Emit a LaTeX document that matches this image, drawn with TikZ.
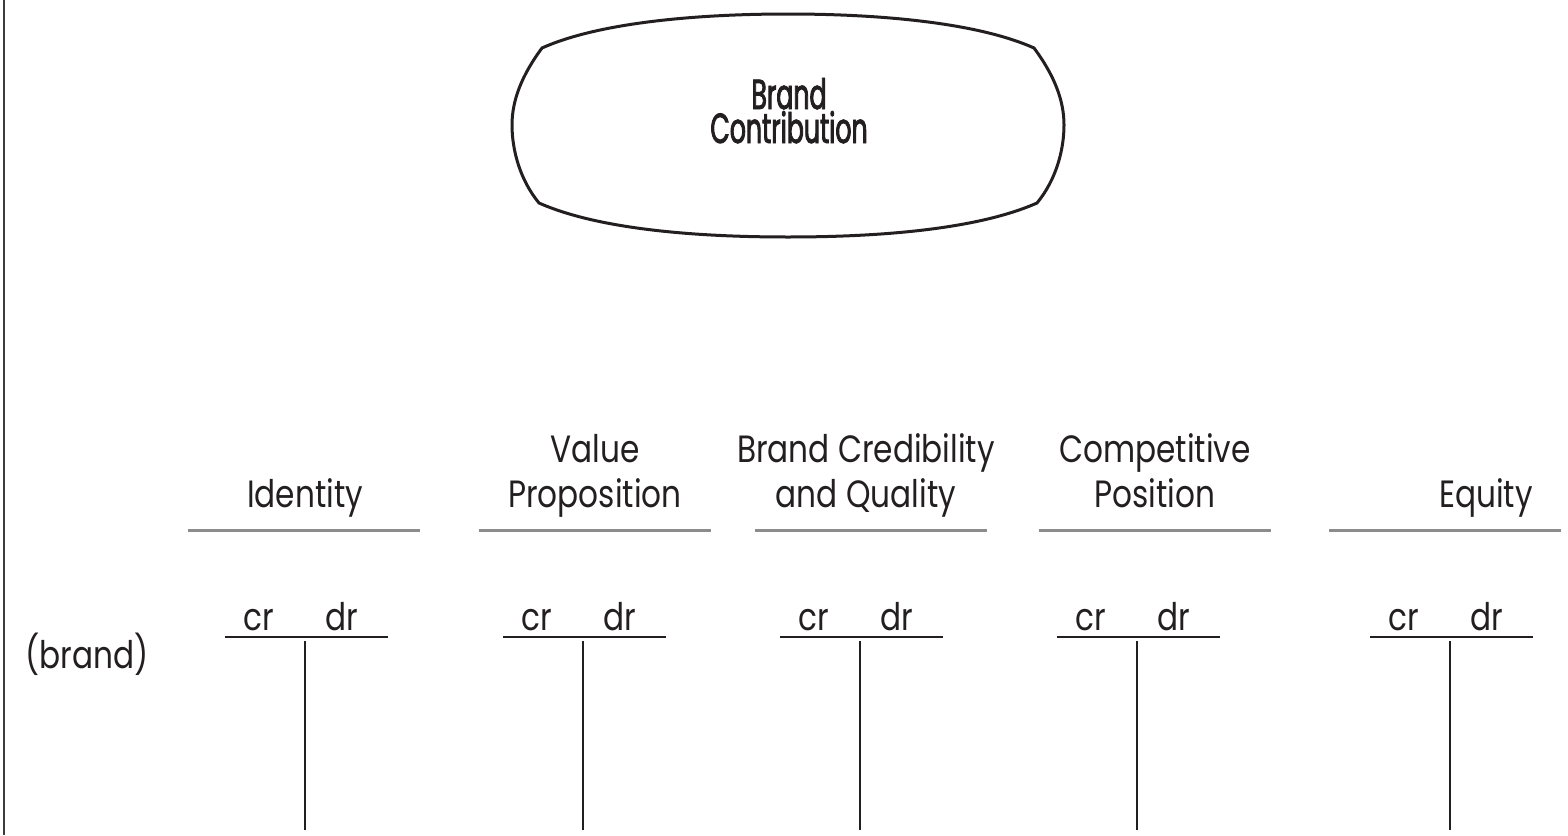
\documentclass[tikz,border=0pt]{standalone}
\usepackage{fontspec}
\setmainfont{Poppins}
\newfontfamily\labelfont[FakeStretch=0.82]{Poppins}
\newfontfamily\condfont[FakeStretch=0.6,FakeBold=2]{Poppins}
\definecolor{ink}{HTML}{231F20}
\definecolor{rulegray}{HTML}{8C8C8C}
\definecolor{framegray}{HTML}{3C3C3C}
\tikzset{
  heading/.style={font=\labelfont\fontsize{19}{22.5}\selectfont, text=ink,
    inner sep=0pt, align=center, anchor=base},
  colhead/.style={font=\labelfont\fontsize{19}{22.5}\selectfont, text=ink,
    inner sep=0pt, anchor=base},
  blob/.style={draw=ink, line width=1.5pt, fill=white},
  blobtext/.style={font=\condfont\fontsize{21}{17}\selectfont, text=ink,
    inner sep=0pt, align=center, anchor=base},
  headrule/.style={draw=rulegray, line width=1.5pt},
  tline/.style={draw=ink, line width=0.8pt},
  frame/.style={draw=framegray, line width=1pt}
}
\begin{document}
\begin{tikzpicture}[x=0.5pt, y=-0.5pt]
\useasboundingbox (0,0) rectangle (1568,835);

% left frame edge
\coordinate (ftop) at (3.5,0);
\coordinate (fbot) at (3.5,835);
\draw[frame] (ftop) -- (fbot);

% rounded barrel shape around the title
\draw[blob] (542,48)
  .. controls (600,22) and (700,14) .. (788,14)
  .. controls (876,14) and (976,22) .. (1034,48)
  .. controls (1054,75) and (1064,100) .. (1064,125)
  .. controls (1064,150) and (1056,180) .. (1037,203)
  .. controls (976,230) and (876,237) .. (788,237)
  .. controls (700,237) and (600,230) .. (539,203)
  .. controls (520,180) and (512,150) .. (512,125)
  .. controls (512,100) and (522,75) .. (542,48) -- cycle;
% the base anchor of a multi-line node sits on its last line
\node[blobtext] (title) at (789,143) {Brand\\Contribution};

% column headings
\node[heading] (identity) at (305,507) {Identity};
\node[heading] (valueprop) at (595,507) {Value\\Proposition};
\node[heading] (credibility) at (866,507) {Brand Credibility\\and Quality};
\node[heading] (competitive) at (1155,507) {Competitive\\Position};
\node[heading] (equity) at (1486,507) {Equity};

% rules under the headings
\foreach \n/\a in {1/188,2/479,3/755,4/1039,5/1329}{
  \coordinate (hl\n) at (\a,530);
  \coordinate (hr\n) at (\a+232,530);
  \draw[headrule] (hl\n) -- (hr\n);
}

% row label
\node[colhead] (brand) at (87,668) {(brand)};

% credit / debit T-accounts
\foreach \n/\xv in {1/305,2/583,3/860,4/1137,5/1450}{
  \coordinate (tl\n) at (\xv-80,637);
  \coordinate (tr\n) at (\xv+83,637);
  \coordinate (vt\n) at (\xv,641);
  \coordinate (vb\n) at (\xv,830);
  \draw[tline] (tl\n) -- (tr\n);
  \draw[tline] (vt\n) -- (vb\n);
  \node[colhead] (cr\n) at (\xv-46,630) {cr};
  \node[colhead] (dr\n) at (\xv+37,630) {dr};
}
\end{tikzpicture}
\end{document}
